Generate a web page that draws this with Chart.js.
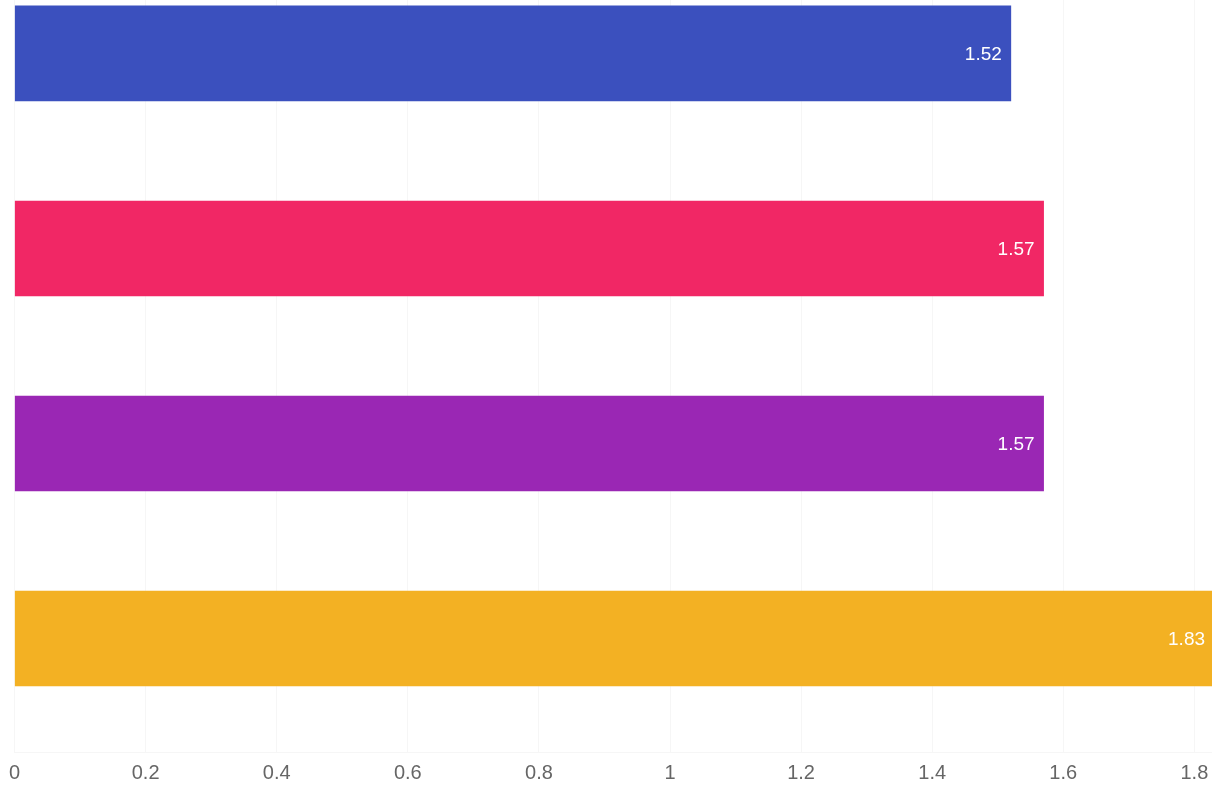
<!DOCTYPE html>
<html lang="ja">
<head>
<meta charset="UTF-8">
<title>Chart</title>
<script src="https://cdn.jsdelivr.net/npm/chart.js@4"></script>
<style>
    html, body { margin: 0; padding: 0; background: #ffffff; overflow: hidden; }
    #wrap { position: relative; width: 1340px; height: 794px; }
</style>
</head>
<body>
<div id="wrap"><canvas id="myChart"></canvas></div>
<script>
// 各行の値と色
const values = [1.52, 1.57, 1.57, 1.83];
const rowIndexes = [0, 1, 2, 3];
const barColors = ['#3B50BE', '#F12765', '#9A27B4', '#F3B123'];

// 横軸の範囲と目盛り間隔
const xMin = 0;
const xMax = 2;
const xTickStep = 0.2;

const main = () => {
    createChart();
};

/**
 * バーの右端に値を白文字で表示するプラグインです。
 */
const valueLabelPlugin = {
    id: 'valueLabel',
    afterDatasetsDraw: (chart) => {
        const ctx = chart.ctx;
        const meta = chart.getDatasetMeta(0);

        ctx.save();
        ctx.font = '19px "Liberation Sans", Arial, sans-serif';
        ctx.fillStyle = '#ffffff';
        ctx.textAlign = 'right';
        ctx.textBaseline = 'middle';

        meta.data.forEach((bar, i) => {
            ctx.fillText(String(values[i]), bar.x - 9, bar.y + 1);
        });

        ctx.restore();
    },
};

/**
 * 目盛りの値を余分な0を付けずに整形します。
 * @param {number} value 目盛りの値を指定します。
 */
const formatTick = (value) => String(Number(value.toFixed(2)));

/**
 * グラフの生成を行います。
 */
const createChart = () => {
    const chartData = {
        datasets: [
            {
                data: rowIndexes.map((row, i) => ({ x: values[i], y: row })),
                backgroundColor: barColors,
                borderWidth: 0,
                barThickness: 95,
            },
        ],
    };

    const config = {
        type: 'bar',
        data: chartData,
        plugins: [valueLabelPlugin],
        options: {
            indexAxis: 'y',
            responsive: true,
            maintainAspectRatio: false,
            animation: false,
            layout: {
                padding: { left: 12, right: 6, top: 0, bottom: 0 },
            },
            plugins: {
                legend: { display: false },
                tooltip: { enabled: false },
            },
            scales: {
                x: {
                    type: 'linear',
                    min: xMin,
                    max: xMax,
                    grid: {
                        color: 'rgba(0, 0, 0, 0.035)',
                        drawTicks: false,
                        tickLength: 0,
                    },
                    border: {
                        color: 'rgba(0, 0, 0, 0.035)',
                    },
                    ticks: {
                        stepSize: xTickStep,
                        color: '#666666',
                        padding: 9,
                        callback: formatTick,
                        font: {
                            family: '"Liberation Sans", Arial, sans-serif',
                            size: 20,
                        },
                    },
                },
                y: {
                    type: 'linear',
                    display: false,
                    reverse: true,
                    offset: false,
                    min: -0.274,
                    max: 3.582,
                },
            },
        },
    };

    const chart = new Chart(document.getElementById('myChart'), config);

    return chart;
};

main();
</script>
</body>
</html>
